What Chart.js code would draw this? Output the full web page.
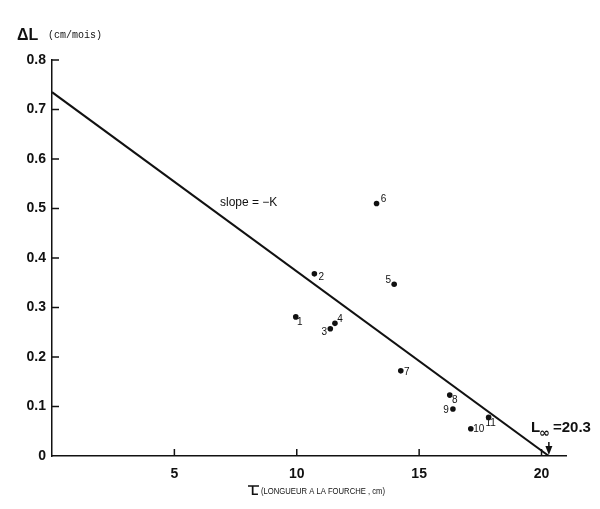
<!DOCTYPE html>
<html>
<head>
<meta charset="utf-8">
<script src="https://cdn.jsdelivr.net/npm/chart.js@4.4.1/dist/chart.umd.min.js"></script>
<style>
html,body{margin:0;padding:0;background:#fff;}
#wrap{width:600px;height:509px;position:relative;}
</style>
</head>
<body>
<div id="wrap"><canvas id="c"></canvas></div>
<script>
// ---- data ----
const pointX = [9.96, 10.72, 11.37, 11.56, 13.98, 13.26, 14.25, 16.25, 16.38, 17.11, 17.84];
const pointY = [0.281, 0.368, 0.257, 0.268, 0.347, 0.510, 0.172, 0.123, 0.095, 0.055, 0.078];
const pointNames = ['1','2','3','4','5','6','7','8','9','10','11'];
const lineX = [0, 20.3];
const lineY = [0.735, 0];
const xTickValues = [5, 10, 15, 20];
const yTickValues = [0, 0.1, 0.2, 0.3, 0.4, 0.5, 0.6, 0.7, 0.8];
const yTickLabels = ['0', '0.1', '0.2', '0.3', '0.4', '0.5', '0.6', '0.7', '0.8'];
const lInfinity = 20.3;

// ---- styling (offsets of point labels in px) ----
const labelOffsets = [[4,5],[7,3],[-6,3],[5,-4],[-6,-4],[7,-4],[6,1],[5,5],[-7,1],[8,0],[2,6]];
const INK = '#111';

const overlay = {
  id: 'overlay',
  afterDraw(chart) {
    const ctx = chart.ctx;
    const xs = chart.scales.x, ys = chart.scales.y;
    const a = chart.chartArea;
    ctx.save();
    ctx.strokeStyle = INK; ctx.fillStyle = INK;
    // inward tick marks
    ctx.lineWidth = 1.5;
    yTickValues.forEach(v => {
      if (v === 0) return;
      const y = ys.getPixelForValue(v);
      ctx.beginPath(); ctx.moveTo(a.left, y); ctx.lineTo(a.left + 7, y); ctx.stroke();
    });
    xTickValues.forEach(v => {
      const x = xs.getPixelForValue(v);
      ctx.beginPath(); ctx.moveTo(x, a.bottom); ctx.lineTo(x, a.bottom - 7); ctx.stroke();
    });
    // point labels
    ctx.font = '10px "Liberation Sans", Arial, sans-serif';
    ctx.textAlign = 'center'; ctx.textBaseline = 'middle';
    pointX.forEach((px, i) => {
      const x = xs.getPixelForValue(px), y = ys.getPixelForValue(pointY[i]);
      const o = labelOffsets[i];
      ctx.fillText(pointNames[i], x + o[0], y + o[1]);
    });
    // slope text
    ctx.font = '12px "Liberation Sans", Arial, sans-serif';
    ctx.textAlign = 'left';
    ctx.fillText('slope = \u2212K', 220, 203);
    // y-axis title
    ctx.font = 'bold 16px "Liberation Sans", Arial, sans-serif';
    ctx.fillText('\u0394L', 17, 36);
    ctx.font = '10px "Liberation Mono", "DejaVu Sans Mono", monospace';
    ctx.fillText('(cm/mois)', 48, 35);
    // x-axis title: L with bar
    ctx.font = 'bold 12px "Liberation Sans", Arial, sans-serif';
    ctx.fillText('L', 251, 492);
    ctx.lineWidth = 1.5;
    ctx.beginPath(); ctx.moveTo(248, 486); ctx.lineTo(259, 486); ctx.stroke();
    ctx.font = '9px "Liberation Sans", Arial, sans-serif';
    const t = '(LONGUEUR A LA FOURCHE , cm)';
    const w = ctx.measureText(t).width;
    ctx.save();
    ctx.translate(261, 492);
    ctx.scale(124 / w, 1);
    ctx.fillText(t, 0, 0);
    ctx.restore();
    // L infinity annotation
    const ax = xs.getPixelForValue(lInfinity);
    ctx.font = 'bold 15px "Liberation Sans", Arial, sans-serif';
    ctx.fillText('L', 531, 428);
    ctx.font = 'bold 13px "DejaVu Sans", sans-serif';
    ctx.fillText('\u221E', 539, 434);
    ctx.font = 'bold 15px "Liberation Sans", Arial, sans-serif';
    ctx.fillText('=20.3', 553, 428);
    ctx.lineWidth = 1.5;
    ctx.beginPath(); ctx.moveTo(ax, 442); ctx.lineTo(ax, a.bottom - 4); ctx.stroke();
    ctx.beginPath();
    ctx.moveTo(ax - 3.5, a.bottom - 10); ctx.lineTo(ax, a.bottom - 1); ctx.lineTo(ax + 3.5, a.bottom - 10);
    ctx.closePath(); ctx.fill();
    ctx.restore();
  }
};

new Chart(document.getElementById('c'), {
  type: 'scatter',
  data: {
    datasets: [
      {
        data: pointX.map((x, i) => ({x, y: pointY[i]})),
        backgroundColor: INK, borderColor: INK,
        pointRadius: 2.8, pointBorderWidth: 0
      },
      {
        data: lineX.map((x, i) => ({x, y: lineY[i]})),
        showLine: true, borderColor: INK, borderWidth: 2,
        pointRadius: 0
      }
    ]
  },
  options: {
    responsive: true, maintainAspectRatio: false, animation: false,
    layout: {padding: {left: 0, right: 34, top: 60, bottom: 23}},
    plugins: {legend: {display: false}, tooltip: {enabled: false}},
    scales: {
      x: {
        type: 'linear', min: 0, max: 21,
        afterBuildTicks: s => { s.ticks = xTickValues.map(v => ({value: v})); },
        afterFit: s => { s.height = 30; },
        grid: {display: false, drawTicks: false},
        border: {display: true, color: INK, width: 1.5},
        ticks: {color: INK, padding: 10, maxRotation: 0, autoSkip: false,
          font: {family: '"Liberation Sans", Arial, sans-serif', size: 14, weight: 'bold'}}
      },
      y: {
        type: 'linear', min: 0, max: 0.8,
        afterBuildTicks: s => { s.ticks = yTickValues.map(v => ({value: v})); },
        afterFit: s => { s.width = 52; },
        grid: {display: false, drawTicks: false},
        border: {display: true, color: INK, width: 1.5},
        ticks: {color: INK, padding: 6, autoSkip: false,
          callback: (v) => { const i = yTickValues.findIndex(t => Math.abs(t - v) < 1e-6); return i >= 0 ? yTickLabels[i] : ''; },
          font: {family: '"Liberation Sans", Arial, sans-serif', size: 14, weight: 'bold'}}
      }
    }
  },
  plugins: [overlay]
});
</script>
</body>
</html>
